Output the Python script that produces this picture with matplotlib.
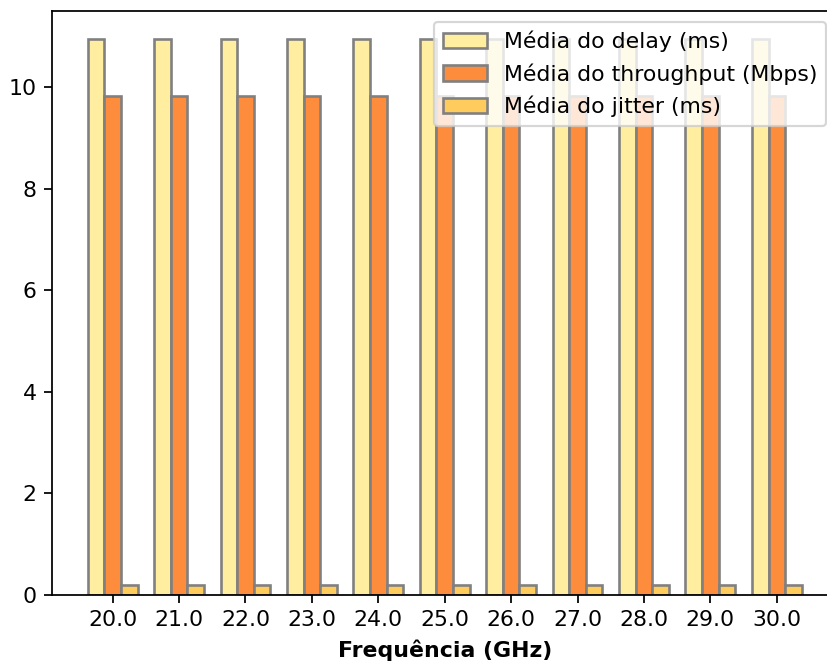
import numpy as np
import matplotlib.pyplot as plt

# Average metrics per carrier frequency
frequencias = [20.0, 21.0, 22.0, 23.0, 24.0, 25.0, 26.0, 27.0, 28.0, 29.0, 30.0]
media_delay = [10.95, 10.95, 10.95, 10.95, 10.95, 10.95, 10.95, 10.95, 10.95, 10.95, 10.95]
media_throughput = [9.82, 9.82, 9.82, 9.82, 9.82, 9.82, 9.82, 9.82, 9.82, 9.82, 9.82]
media_jitter = [0.20, 0.20, 0.20, 0.20, 0.20, 0.20, 0.20, 0.20, 0.20, 0.20, 0.20]

x = np.arange(len(frequencias))
largura = 0.25
dpi = 158

fig = plt.figure(figsize=(827 / dpi, 664 / dpi), dpi=dpi)
ax = fig.add_axes([0.0629, 0.1039, 0.9497, 0.8795])

ax.bar(x - largura, media_delay, largura, color='#ffeda0', edgecolor='gray',
       linewidth=1.2, label='Média do delay (ms)')
ax.bar(x, media_throughput, largura, color='#fd8d3c', edgecolor='gray',
       linewidth=1.2, label='Média do throughput (Mbps)')
ax.bar(x + largura, media_jitter, largura, color='#fecc5c', edgecolor='gray',
       linewidth=1.2, label='Média do jitter (ms)')

ax.set_xticks(x)
ax.set_xticklabels([f"{f:.1f}" for f in frequencias])
ax.set_xlabel('Frequência (GHz)', fontweight='bold')
ax.legend(loc='upper right')

plt.savefig("out.png", dpi=dpi)
